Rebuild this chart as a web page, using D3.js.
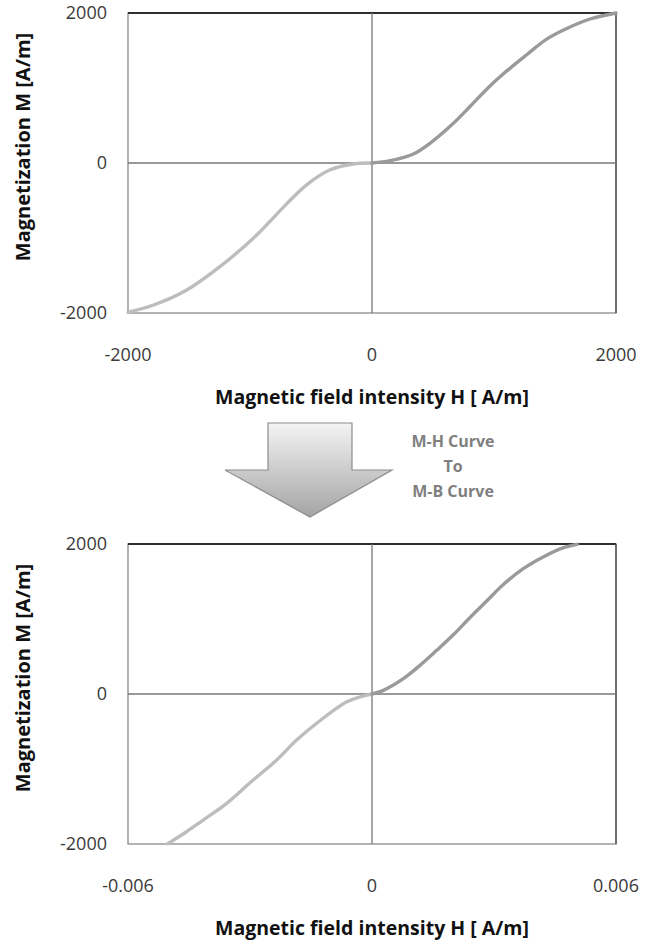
<!DOCTYPE html>
<html>
<head>
<meta charset="utf-8">
<script src="https://cdn.jsdelivr.net/npm/d3@7"></script>
<style>
  body { margin: 0; background: #fff; }
  svg { display: block; }
  .tick-label { font-family: "Open Sans", sans-serif; font-size: 18px; fill: #3a3a3a; }
  .axis-title { font-family: "Open Sans", sans-serif; font-weight: bold; fill: #111; }
  .note { font-family: "Open Sans", sans-serif; font-size: 16px; font-weight: bold; fill: #7f7f7f; }
</style>
</head>
<body>
<svg id="chart"></svg>
<script>
// M-H curve (top), H in A/m
const mhNegH = [-2000, -1795, -1522, -1249, -975, -839, -702, -538, -347, -156, 0];
const mhNegM = [-1990, -1897, -1697, -1385, -1007, -784, -548, -294, -94, -13, 0];
const mhPosH = [0, 148, 339, 475, 667, 803, 940, 1077, 1268, 1432, 1623, 1787, 2000];
const mhPosM = [0, 31, 120, 263, 530, 753, 984, 1189, 1443, 1652, 1813, 1920, 2000];

// M-B curve (bottom)
const mbNegH = [-0.00502, -0.00457, -0.00416, -0.00358, -0.00293, -0.00235, -0.00186, -0.00129, -0.00063, -0.0003, 0];
const mbNegM = [-1995, -1840, -1684, -1462, -1151, -884, -618, -360, -107, -40, 0];
const mbPosH = [0, 0.00028, 0.00077, 0.00118, 0.00159, 0.002, 0.00241, 0.00282, 0.00323, 0.00372, 0.00421, 0.00471, 0.00505];
const mbPosM = [0, 49, 204, 382, 582, 790, 1020, 1240, 1460, 1671, 1827, 1951, 1996];

const yTicks = [-2000, 0, 2000];
const xTicksTop = [-2000, 0, 2000];
const xTicksBottom = [-0.006, 0, 0.006];
const xLabelsBottom = ["-0.006", "0", "0.006"];

const xTitle = "Magnetic field intensity H  [ A/m]";
const yTitle = "Magnetization M [A/m]";
const noteLines = ["M-H Curve", "To", "M-B Curve"];

const W = 653, H = 941;
const svg = d3.select("#chart").attr("width", W).attr("height", H);

const defs = svg.append("defs");
const grad = defs.append("linearGradient")
    .attr("id", "arrowGrad")
    .attr("x1", 0).attr("y1", 0).attr("x2", 0).attr("y2", 1);
grad.append("stop").attr("offset", "0%").attr("stop-color", "#f4f4f4");
grad.append("stop").attr("offset", "100%").attr("stop-color", "#a4a4a4");

function zip(xs, ys) {
    return xs.map((x, i) => ({ h: x, m: ys[i] }));
}

function drawPanel(top, xDomain, xTicks, xLabels, negH, negM, posH, posM) {
    const left = 128, right = 616, plotH = 300;
    const g = svg.append("g").attr("transform", "translate(0," + top + ")");

    const x = d3.scaleLinear().domain(xDomain).range([left, right]);
    const y = d3.scaleLinear().domain([-2000, 2000]).range([plotH, 0]);

    // plot box
    g.append("rect")
        .attr("x", left).attr("y", 0)
        .attr("width", right - left).attr("height", plotH)
        .attr("fill", "none").attr("stroke", "#8a8a8a").attr("stroke-width", 1.3);
    g.append("line")
        .attr("x1", left).attr("x2", right).attr("y1", 0).attr("y2", 0)
        .attr("stroke", "#2e2e2e").attr("stroke-width", 2);
    g.append("line")
        .attr("x1", right).attr("x2", right).attr("y1", 0).attr("y2", plotH)
        .attr("stroke", "#4a4a4a").attr("stroke-width", 1.3);

    // zero axes
    g.append("line")
        .attr("x1", left).attr("x2", right).attr("y1", y(0)).attr("y2", y(0))
        .attr("stroke", "#777").attr("stroke-width", 1.3);
    g.append("line")
        .attr("x1", x(0)).attr("x2", x(0)).attr("y1", 0).attr("y2", plotH)
        .attr("stroke", "#777").attr("stroke-width", 1.3);

    const line = d3.line().x(d => x(d.h)).y(d => y(d.m)).curve(d3.curveCatmullRom.alpha(0.5));

    g.append("path").datum(zip(negH, negM))
        .attr("d", line).attr("fill", "none")
        .attr("stroke", "#bdbdbd").attr("stroke-width", 3.4)
        .attr("stroke-linecap", "round");
    g.append("path").datum(zip(posH, posM))
        .attr("d", line).attr("fill", "none")
        .attr("stroke", "#9a9a9a").attr("stroke-width", 3.4)
        .attr("stroke-linecap", "round");

    // y tick labels
    g.selectAll(".ytick").data(yTicks).enter().append("text")
        .attr("class", "tick-label")
        .attr("x", 107).attr("y", d => y(d))
        .attr("dy", "0.36em")
        .attr("text-anchor", "end")
        .text(d => d);

    // x tick labels
    g.selectAll(".xtick").data(xTicks).enter().append("text")
        .attr("class", "tick-label")
        .attr("x", d => x(d)).attr("y", plotH + 48)
        .attr("text-anchor", "middle")
        .text((d, i) => xLabels[i]);

    g.append("text")
        .attr("class", "axis-title")
        .attr("font-size", 19.5)
        .attr("x", x(0)).attr("y", plotH + 91)
        .attr("text-anchor", "middle")
        .text(xTitle);

    g.append("text")
        .attr("class", "axis-title")
        .attr("font-size", 20)
        .attr("transform", "translate(30," + 134 + ") rotate(-90)")
        .attr("text-anchor", "middle")
        .text(yTitle);
}

drawPanel(13, [-2000, 2000], xTicksTop, xTicksTop.map(String), mhNegH, mhNegM, mhPosH, mhPosM);
drawPanel(544, [-0.006, 0.006], xTicksBottom, xLabelsBottom, mbNegH, mbNegM, mbPosH, mbPosM);

// conversion arrow
const ax = 310, ay = 423;
const arrow = d3.path();
arrow.moveTo(ax - 42, ay);
arrow.lineTo(ax + 42, ay);
arrow.lineTo(ax + 42, ay + 47);
arrow.lineTo(ax + 82, ay + 47);
arrow.lineTo(ax, ay + 94);
arrow.lineTo(ax - 85, ay + 47);
arrow.lineTo(ax - 42, ay + 47);
arrow.closePath();
svg.append("path")
    .attr("d", arrow.toString())
    .attr("fill", "url(#arrowGrad)")
    .attr("stroke", "#8c8c8c").attr("stroke-width", 1.2);

svg.selectAll(".note").data(noteLines).enter().append("text")
    .attr("class", "note")
    .attr("x", 453).attr("y", (d, i) => 447 + i * 25)
    .attr("text-anchor", "middle")
    .text(d => d);
</script>
</body>
</html>
